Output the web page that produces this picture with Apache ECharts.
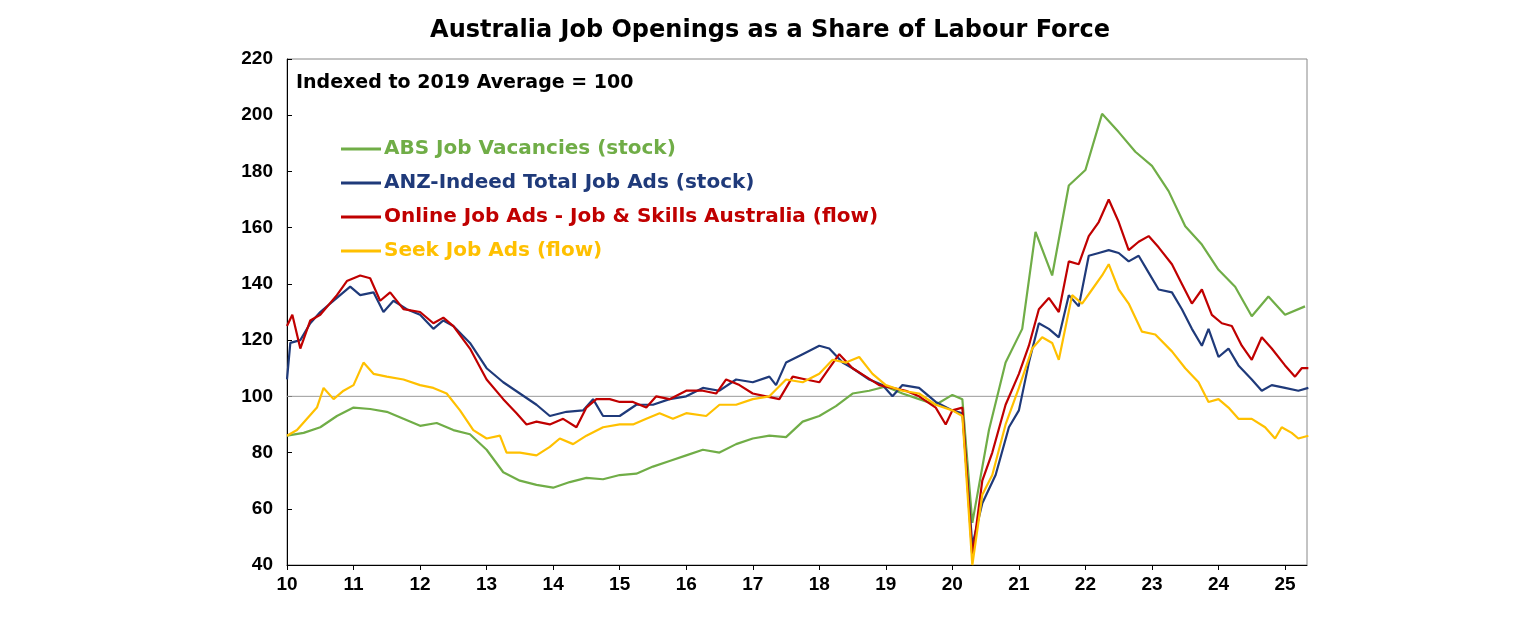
<!DOCTYPE html><html><head><meta charset="utf-8">
<script src="https://cdn.jsdelivr.net/npm/echarts@6/dist/echarts.min.js"></script>
<style>body{margin:0;background:#fff}#c{width:1536px;height:630px}</style></head><body><div id="c"></div>
<script>
const absVac=[[2010,86],[2010.25,87],[2010.5,89],[2010.75,93],[2011,96],[2011.25,95.5],[2011.5,94.5],[2011.75,92],[2012,89.5],[2012.25,90.5],[2012.5,88],[2012.75,86.5],[2013,81],[2013.25,73],[2013.5,70],[2013.75,68.5],[2014,67.5],[2014.25,69.5],[2014.5,71],[2014.75,70.5],[2015,72],[2015.25,72.5],[2015.5,75],[2015.75,77],[2016,79],[2016.25,81],[2016.5,80],[2016.75,83],[2017,85],[2017.25,86],[2017.5,85.5],[2017.75,91],[2018,93],[2018.25,96.5],[2018.5,101],[2018.75,102],[2019,103.5],[2019.25,101],[2019.5,99],[2019.75,97],[2020,100.5],[2020.15,99],[2020.3,55],[2020.55,88],[2020.8,112],[2021.05,124],[2021.25,158.5],[2021.5,143],[2021.75,175],[2022,180.5],[2022.25,200.5],[2022.5,194],[2022.75,187],[2023,182],[2023.25,173],[2023.5,160.5],[2023.75,154],[2024,145],[2024.25,139],[2024.5,128.5],[2024.75,135.5],[2025,129],[2025.3,132]];
const anz=[[2010,106],[2010.05,119],[2010.2,120],[2010.35,126],[2010.5,130],[2010.75,135],[2010.95,139],[2011.1,136],[2011.3,137],[2011.45,130],[2011.6,134],[2011.8,131],[2012,129],[2012.2,124],[2012.35,127],[2012.5,125],[2012.75,119],[2013,110],[2013.25,105],[2013.5,101],[2013.75,97],[2013.95,93],[2014.2,94.5],[2014.45,95],[2014.6,99],[2014.75,93],[2015,93],[2015.25,97],[2015.5,97],[2015.75,99],[2016,100],[2016.25,103],[2016.5,102],[2016.75,106],[2017,105],[2017.25,107],[2017.35,104],[2017.5,112],[2017.75,115],[2018,118],[2018.15,117],[2018.35,112],[2018.5,110],[2018.75,106],[2018.95,104],[2019.1,100],[2019.25,104],[2019.5,103],[2019.75,98],[2020,95],[2020.15,94],[2020.3,47],[2020.45,62],[2020.65,72],[2020.85,89],[2021,95],[2021.15,112],[2021.3,126],[2021.45,124],[2021.6,121],[2021.75,136],[2021.9,132],[2022.05,150],[2022.2,151],[2022.35,152],[2022.5,151],[2022.65,148],[2022.8,150],[2022.95,144],[2023.1,138],[2023.3,137],[2023.45,131],[2023.6,124],[2023.75,118],[2023.85,124],[2024,114],[2024.15,117],[2024.3,111],[2024.5,106],[2024.65,102],[2024.8,104],[2025,103],[2025.2,102],[2025.35,103]];
const online=[[2010,125],[2010.08,129],[2010.2,117],[2010.35,127],[2010.5,129],[2010.75,136],[2010.9,141],[2011.1,143],[2011.25,142],[2011.4,134],[2011.55,137],[2011.75,131],[2012,130],[2012.2,126],[2012.35,128],[2012.5,125],[2012.75,117],[2013,106],[2013.25,99],[2013.45,94],[2013.6,90],[2013.75,91],[2013.95,90],[2014.15,92],[2014.35,89],[2014.5,96],[2014.65,99],[2014.85,99],[2015,98],[2015.2,98],[2015.4,96],[2015.55,100],[2015.75,99],[2016,102],[2016.25,102],[2016.45,101],[2016.6,106],[2016.8,104],[2017,101],[2017.2,100],[2017.4,99],[2017.6,107],[2017.8,106],[2018,105],[2018.15,110],[2018.3,115],[2018.5,110],[2018.7,107],[2018.9,104],[2019.1,103],[2019.3,102],[2019.5,100],[2019.75,96],[2019.9,90],[2020,95],[2020.15,96],[2020.3,43],[2020.45,70],[2020.6,80],[2020.8,97],[2021,108],[2021.15,118],[2021.3,131],[2021.45,135],[2021.6,130],[2021.75,148],[2021.9,147],[2022.05,157],[2022.2,162],[2022.35,170],[2022.5,162],[2022.65,152],[2022.8,155],[2022.95,157],[2023.1,153],[2023.3,147],[2023.45,140],[2023.6,133],[2023.75,138],[2023.9,129],[2024.05,126],[2024.2,125],[2024.35,118],[2024.5,113],[2024.65,121],[2024.8,117],[2025,111],[2025.15,107],[2025.25,110],[2025.35,110]];
const seek=[[2010,86],[2010.15,88],[2010.3,92],[2010.45,96],[2010.55,103],[2010.7,99],[2010.85,102],[2011,104],[2011.15,112],[2011.3,108],[2011.5,107],[2011.75,106],[2012,104],[2012.2,103],[2012.4,101],[2012.6,95],[2012.8,88],[2013,85],[2013.2,86],[2013.3,80],[2013.5,80],[2013.75,79],[2013.95,82],[2014.1,85],[2014.3,83],[2014.5,86],[2014.75,89],[2015,90],[2015.2,90],[2015.4,92],[2015.6,94],[2015.8,92],[2016,94],[2016.3,93],[2016.5,97],[2016.75,97],[2017,99],[2017.25,100],[2017.5,106],[2017.75,105],[2018,108],[2018.2,113],[2018.4,112],[2018.6,114],[2018.8,108],[2019,104],[2019.25,102],[2019.5,101],[2019.75,97],[2020,95],[2020.15,93],[2020.3,40],[2020.45,65],[2020.6,72],[2020.8,90],[2021,103],[2021.2,117],[2021.35,121],[2021.5,119],[2021.6,113],[2021.8,136],[2021.95,133],[2022.1,138],[2022.25,143],[2022.35,147],[2022.5,138],[2022.65,133],[2022.85,123],[2023.05,122],[2023.3,116],[2023.5,110],[2023.7,105],[2023.85,98],[2024,99],[2024.15,96],[2024.3,92],[2024.5,92],[2024.7,89],[2024.85,85],[2024.95,89],[2025.1,87],[2025.2,85],[2025.35,86]];
const names=['ABS Job Vacancies (stock)','ANZ-Indeed Total Job Ads (stock)','Online Job Ads - Job & Skills Australia (flow)','Seek Job Ads (flow)'];
const colors=['#70ad47','#1f3a7a','#c00000','#ffc000'];
const F='DejaVu Sans';
const ch=echarts.init(document.getElementById('c'));
const mk=(n,d,c)=>({name:n,type:'line',data:d,showSymbol:false,lineStyle:{color:c,width:2.2},itemStyle:{color:c}});
const rs=c=>({color:c,fontSize:20,fontWeight:'bold',fontFamily:F});
ch.setOption({
 animation:false,
 title:{text:'Australia Job Openings as a Share of Labour Force',left:765,top:14,textAlign:'center',textStyle:{fontFamily:F,fontWeight:'bold',fontSize:24,color:'#000'}},
 grid:{left:287,right:229,top:59,bottom:65},
 xAxis:{type:'value',min:2010,max:2025.33,interval:1,axisLine:{lineStyle:{color:'#000'}},axisTick:{lineStyle:{color:'#000'},length:5},splitLine:{show:false},
  axisLabel:{formatter:v=>String(v).slice(2),fontFamily:'Arial',fontWeight:'bold',fontSize:19,color:'#000',margin:10,showMaxLabel:false}},
 yAxis:{type:'value',min:40,max:220,interval:20,axisLine:{show:true,lineStyle:{color:'#000'}},axisTick:{show:true,inside:true},splitLine:{show:false},
  axisLabel:{fontFamily:'Arial',fontWeight:'bold',fontSize:19,color:'#000',margin:14}},
 legend:{orient:'vertical',left:336,top:134,itemGap:14,itemWidth:40,itemHeight:3,icon:'rect',data:names,
  formatter:n=>'{'+['a','b','c','d'][names.indexOf(n)]+'|'+n+'}',
  textStyle:{fontFamily:F,fontWeight:'bold',fontSize:20,padding:[0,0,0,-2],rich:{a:rs(colors[0]),b:rs(colors[1]),c:rs(colors[2]),d:rs(colors[3])}}},
 graphic:[{type:'text',left:296,top:74,style:{text:'Indexed to 2019 Average = 100',font:'bold 19px "DejaVu Sans"',fill:'#000'}},
  {type:'rect',shape:{x:287,y:59,width:1020,height:506},style:{fill:'none',stroke:'#888',lineWidth:1},silent:true}],
 series:[mk(names[0],absVac,colors[0]),mk(names[1],anz,colors[1]),mk(names[2],online,colors[2]),mk(names[3],seek,colors[3]),
  {type:'line',data:[[2010,100],[2025.33,100]],showSymbol:false,silent:true,lineStyle:{color:'#999',width:1},z:1}]
});
</script></body></html>
